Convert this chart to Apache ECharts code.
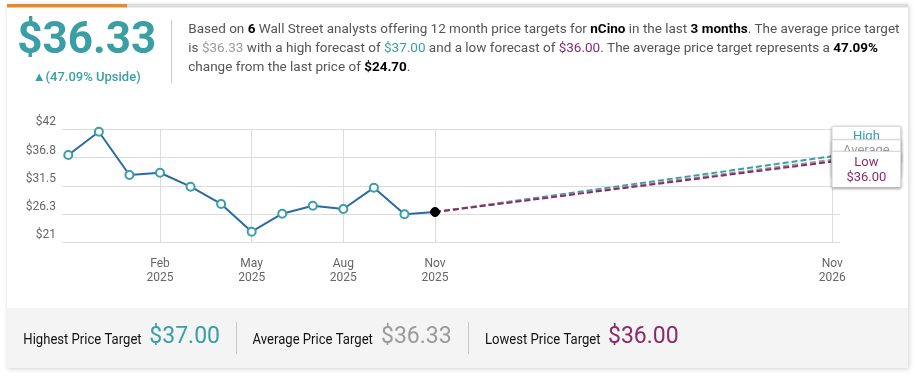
<!DOCTYPE html>
<html>
<head>
<meta charset="utf-8">
<script src="https://cdn.jsdelivr.net/npm/echarts@6/dist/echarts.min.js"></script>
<style>
html,body{margin:0;padding:0;background:#fff;}
#c{width:917px;height:376px;}
</style>
</head>
<body>
<div id="c"></div>
<script>
// ---- data ----
const monthLabels = ['Nov 2024','Dec 2024','Jan 2025','Feb 2025','Mar 2025','Apr 2025','May 2025','Jun 2025','Jul 2025','Aug 2025','Sep 2025','Oct 2025','Nov 2025'];
const monthIndex = [0,1,2,3,4,5,6,7,8,9,10,11,12];
const prices = [37.22, 41.55, 33.51, 33.93, 31.33, 28.12, 22.97, 26.31, 27.80, 27.19, 31.15, 26.20, 26.63];
const targetIndex = 25; // Nov 2026
const highTarget = 37.00;
const avgTarget = 36.33;
const lowTarget = 36.00;
const lastPrice = 24.70;
const upsidePct = 47.09;
const analystCount = 6;
const tickIndex = [3, 6, 9, 12, 25];
const tickLabels = ['Feb\n2025', 'May\n2025', 'Aug\n2025', 'Nov\n2025', 'Nov\n2026'];
const yMin = 21, yMax = 42, yStep = 5.25;

const TEAL = '#3a9ea5', PURPLE = '#8b2b6b', GRAY = '#9b9b9b', BLUE = '#2b6ba5';
const FONT = 'Roboto, "Noto Sans", sans-serif';

const chart = echarts.init(document.getElementById('c'), null, {renderer: 'canvas'});

const lastI = monthIndex.length - 1;
const histData = monthIndex.map((m, i) => {
  const item = {value: [m, prices[i]]};
  if (i === lastI) {
    item.symbolSize = 9;
    item.itemStyle = {color: '#000', borderColor: '#000', borderWidth: 1};
  }
  return item;
});

function fcSeries(name, val, color, text, dy) {
  return {
    type: 'line', name: name, silent: true,
    data: [
      {value: [monthIndex[lastI], prices[lastI]], symbol: 'none'},
      {value: [targetIndex, val], symbol: 'circle', symbolSize: 1,
       itemStyle: {color: 'rgba(0,0,0,0)', borderWidth: 0},
       label: {
         show: true, position: [34.5, dy], align: 'center', verticalAlign: 'top',
         formatter: text + '\n$' + val.toFixed(2),
         color: color, fontFamily: FONT, fontSize: 13, lineHeight: 15,
         width: 60, padding: [3, 4, 2, 4],
         backgroundColor: '#fff', borderColor: '#e2e2e2', borderWidth: 1, borderRadius: 1,
         shadowColor: 'rgba(0,0,0,0.28)', shadowBlur: 3, shadowOffsetY: 1, shadowOffsetX: 0
       }}
    ],
    lineStyle: {color: color, width: 2, type: [6, 3]},
    z: 2
  };
}

const option = {
  animation: false,
  grid: {left: 62, right: 77, top: 129.3, bottom: 133.7, containLabel: false},
  xAxis: {
    type: 'value', min: -0.206, max: 25.25,
    axisLine: {show: false},
    axisTick: {show: false, customValues: tickIndex},
    axisLabel: {
      customValues: tickIndex,
      formatter: v => tickLabels[tickIndex.indexOf(Math.round(v))] || '',
      color: '#666', fontFamily: FONT, fontSize: 12, lineHeight: 14, margin: 15
    },
    splitLine: {show: true, lineStyle: {color: '#dcdcdc', width: 1}}
  },
  yAxis: {
    type: 'value', min: yMin, max: yMax, interval: yStep,
    axisLine: {show: false}, axisTick: {show: false},
    axisLabel: {
      formatter: v => '$' + (Math.round(v * 10) / 10),
      color: '#666', fontFamily: FONT, fontSize: 12,
      verticalAlign: 'bottom', padding: [0, 0, 1, 0], margin: 6
    },
    splitLine: {show: true, lineStyle: {color: '#dcdcdc', width: 1}}
  },
  series: [
    fcSeries('High', highTarget, TEAL, 'High', -29),
    fcSeries('Average', avgTarget, GRAY, 'Average', -19),
    fcSeries('Low', lowTarget, PURPLE, 'Low', -9),
    {
      type: 'line', name: 'Price', data: histData,
      symbol: 'circle', symbolSize: 8,
      itemStyle: {color: '#fff', borderColor: TEAL, borderWidth: 2},
      lineStyle: {color: BLUE, width: 2},
      z: 5
    }
  ],
  graphic: [
    {type: 'rect', z: -10, shape: {x: 7, y: 4, width: 901, height: 364},
     style: {fill: '#fff', shadowBlur: 5, shadowColor: 'rgba(0,0,0,0.18)', shadowOffsetX: 1, shadowOffsetY: 1}},
    {type: 'rect', z: -9, shape: {x: 7, y: 4, width: 120, height: 3.5}, style: {fill: '#e8892b'}},
    {type: 'rect', z: -9, shape: {x: 127, y: 4, width: 781, height: 3.5}, style: {fill: '#dcdcdc'}},
    {type: 'text', x: 86.7, y: 42, style: {text: '$36.33', fill: TEAL, font: 'bold 44px ' + FONT, align: 'center', verticalAlign: 'middle'}},
    {type: 'text', x: 86.7, y: 77.3, style: {text: '\u25B2(' + upsidePct.toFixed(2) + '% Upside)', fill: TEAL, font: '500 13px ' + FONT, align: 'center', verticalAlign: 'middle'}},
    {type: 'rect', shape: {x: 171, y: 20, width: 1, height: 63.3}, style: {fill: '#c8c8c8'}},
    {type: 'text', x: 188.3, y: 20.5, style: {
      text: 'Based on {b|' + analystCount + '} Wall Street analysts offering 12 month price targets for {b|nCino} in the last {b|3 months}. The average price target\n' +
            'is {a|$' + avgTarget.toFixed(2) + '} with a high forecast of {h|$' + highTarget.toFixed(2) + '} and a low forecast of {l|$' + lowTarget.toFixed(2) + '}. The average price target represents a {b|' + upsidePct.toFixed(2) + '%}\n' +
            'change from the last price of {b|$' + lastPrice.toFixed(2) + '}.',
      fill: '#555', font: '13.5px ' + FONT, lineHeight: 19, align: 'left', verticalAlign: 'top',
      rich: {
        b: {fill: '#000', fontWeight: 'bold', fontSize: 13.5, fontFamily: FONT, lineHeight: 19},
        a: {fill: GRAY, fontSize: 13.5, fontFamily: FONT, lineHeight: 19},
        h: {fill: TEAL, fontSize: 13.5, fontFamily: FONT, lineHeight: 19},
        l: {fill: PURPLE, fontSize: 13.5, fontFamily: FONT, lineHeight: 19}
      }
    }},
    {type: 'rect', z: -8, shape: {x: 7, y: 308, width: 901, height: 60}, style: {fill: '#f4f4f4'}},
    {type: 'text', x: 23.3, y: 340.5, scaleX: 0.935, originX: 0, style: {text: 'Highest Price Target', fill: '#111', font: '14px ' + FONT, verticalAlign: 'middle'}},
    {type: 'text', x: 149.3, y: 337, style: {text: '$' + highTarget.toFixed(2), fill: TEAL, font: '23px ' + FONT, verticalAlign: 'middle'}},
    {type: 'rect', shape: {x: 236, y: 322, width: 1, height: 32}, style: {fill: '#c8c8c8'}},
    {type: 'text', x: 252.6, y: 340.5, scaleX: 0.935, originX: 0, style: {text: 'Average Price Target', fill: '#111', font: '14px ' + FONT, verticalAlign: 'middle'}},
    {type: 'text', x: 381, y: 337, style: {text: '$' + avgTarget.toFixed(2), fill: GRAY, font: '23px ' + FONT, verticalAlign: 'middle'}},
    {type: 'rect', shape: {x: 468, y: 322, width: 1, height: 32}, style: {fill: '#c8c8c8'}},
    {type: 'text', x: 485, y: 340.5, scaleX: 0.935, originX: 0, style: {text: 'Lowest Price Target', fill: '#111', font: '14px ' + FONT, verticalAlign: 'middle'}},
    {type: 'text', x: 608, y: 337, style: {text: '$' + lowTarget.toFixed(2), fill: PURPLE, font: '23px ' + FONT, verticalAlign: 'middle'}}
  ]
};
chart.setOption(option);
</script>
</body>
</html>
